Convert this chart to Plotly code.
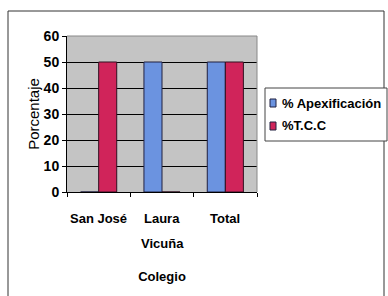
import plotly.graph_objects as go

categories = ["San José", "Laura<br>Vicuña", "Total"]
apex_values = [0, 50, 50]
tcc_values = [50, 0, 50]
series_names = ["% Apexificación", "%T.C.C"]
series_colors = ["#6b93e0", "#d0245a"]
y_ticks = [0, 10, 20, 30, 40, 50, 60]

W, H = 388, 296
L, R, T, B = 67, 131, 36, 104
pw, ph = W - L - R, H - T - B

font_b = "Liberation Sans, Arial"

fig = go.Figure()
fig.add_bar(x=categories, y=apex_values, name=series_names[0],
            marker=dict(color=series_colors[0], line=dict(color="#202040", width=1)))
fig.add_bar(x=categories, y=tcc_values, name=series_names[1],
            marker=dict(color=series_colors[1], line=dict(color="#301020", width=1)))

def px_x(x):
    return (x - L) / pw

def px_y(y):
    return (H - B - y) / ph

shapes = [
    dict(type="rect", xref="paper", yref="paper",
         x0=px_x(8), x1=px_x(384), y0=px_y(300), y1=px_y(11),
         line=dict(color="#333333", width=1), layer="above"),
    dict(type="line", xref="paper", yref="paper",
         x0=1, x1=1, y0=0, y1=1, line=dict(color="#888888", width=1)),
    dict(type="line", xref="paper", yref="paper",
         x0=0, x1=1, y0=1, y1=1, line=dict(color="#888888", width=1)),
    # legend box
    dict(type="rect", xref="paper", yref="paper",
         x0=px_x(265), x1=px_x(387), y0=px_y(141), y1=px_y(88),
         line=dict(color="#444444", width=1), fillcolor="white", layer="above"),
]
annotations = []
legend_rows = [103, 126]
for name, color, yc in zip(series_names, series_colors, legend_rows):
    shapes.append(dict(type="rect", xref="paper", yref="paper",
                       x0=px_x(270), x1=px_x(276), y0=px_y(yc + 4), y1=px_y(yc - 4),
                       line=dict(color="#202040", width=1), fillcolor=color, layer="above"))
    annotations.append(dict(text=name, xref="paper", yref="paper",
                            x=px_x(280), y=px_y(yc), xanchor="left", yanchor="middle",
                            showarrow=False,
                            font=dict(size=13, family=font_b, weight="bold", color="black")))

# category labels with the wide line spacing of the original
for cat in categories:
    for i, line in enumerate(cat.split("<br>")):
        annotations.append(dict(text=line, xref="x", yref="paper",
                                x=cat, y=px_y(218 + 25 * i), xanchor="center", yanchor="middle",
                                showarrow=False,
                                font=dict(size=13, family=font_b, weight="bold", color="black")))

fig.update_layout(
    width=W, height=H,
    margin=dict(l=L, r=R, t=T, b=B, autoexpand=False),
    paper_bgcolor="white",
    plot_bgcolor="#c4c4c4",
    barmode="group",
    bargap=0.43,
    bargroupgap=0,
    font=dict(family=font_b, color="black"),
    showlegend=False,
    xaxis=dict(
        showline=True, linecolor="black", linewidth=1,
        ticks="outside", tickson="boundaries", ticklen=4, tickcolor="black",
        showticklabels=False,
        title=dict(text="Colegio", font=dict(size=13, family=font_b, weight="bold"), standoff=79),
        showgrid=False,
    ),
    yaxis=dict(
        range=[0, 60], tickvals=y_ticks,
        showline=True, linecolor="black", linewidth=1,
        ticks="outside", ticklen=4, tickcolor="black",
        tickfont=dict(size=14, family=font_b, weight="bold"),
        showgrid=True, gridcolor="black", gridwidth=1,
        zeroline=False,
        title=dict(text="Porcentaje", font=dict(size=15, family=font_b), standoff=0),
    ),
    shapes=shapes,
    annotations=annotations,
)

fig.write_html("out.html", config={"displayModeBar": False},
               post_script="document.body.style.margin='0px';")
